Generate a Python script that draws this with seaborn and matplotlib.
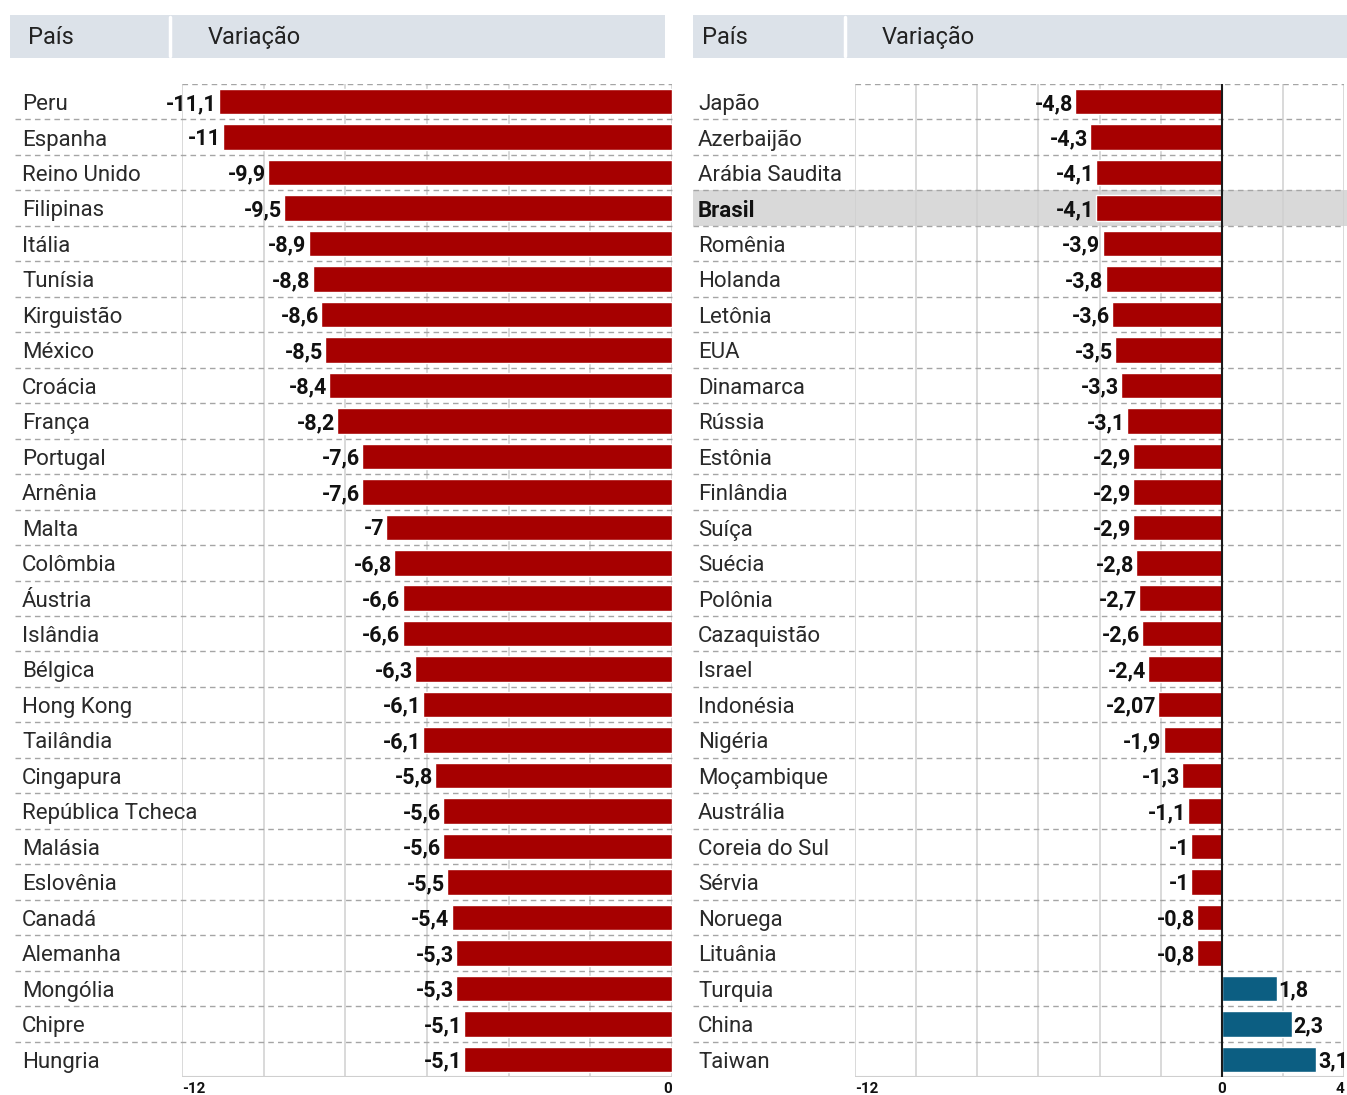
import matplotlib
matplotlib.use("Agg")
import matplotlib.pyplot as plt
import matplotlib.transforms as mtrans
from matplotlib.patches import Rectangle
from matplotlib.lines import Line2D
import seaborn as sns
import pandas as pd

# ---------------- data ----------------
paises_esq = ["Peru", "Espanha", "Reino Unido", "Filipinas", "Itália", "Tunísia",
              "Kirguistão", "México", "Croácia", "França", "Portugal", "Arnênia",
              "Malta", "Colômbia", "Áustria", "Islândia", "Bélgica", "Hong Kong",
              "Tailândia", "Cingapura", "República Tcheca", "Malásia", "Eslovênia",
              "Canadá", "Alemanha", "Mongólia", "Chipre", "Hungria"]
valores_esq = [-11.1, -11, -9.9, -9.5, -8.9, -8.8, -8.6, -8.5, -8.4, -8.2, -7.6, -7.6,
               -7, -6.8, -6.6, -6.6, -6.3, -6.1, -6.1, -5.8, -5.6, -5.6, -5.5, -5.4,
               -5.3, -5.3, -5.1, -5.1]

paises_dir = ["Japão", "Azerbaijão", "Arábia Saudita", "Brasil", "Romênia", "Holanda",
              "Letônia", "EUA", "Dinamarca", "Rússia", "Estônia", "Finlândia", "Suíça",
              "Suécia", "Polônia", "Cazaquistão", "Israel", "Indonésia", "Nigéria",
              "Moçambique", "Austrália", "Coreia do Sul", "Sérvia", "Noruega",
              "Lituânia", "Turquia", "China", "Taiwan"]
valores_dir = [-4.8, -4.3, -4.1, -4.1, -3.9, -3.8, -3.6, -3.5, -3.3, -3.1, -2.9, -2.9,
               -2.9, -2.8, -2.7, -2.6, -2.4, -2.07, -1.9, -1.3, -1.1, -1, -1, -0.8,
               -0.8, 1.8, 2.3, 3.1]

destaque = "Brasil"
cabecalho = ["País", "Variação"]
limites_esq = (-12, 0)
limites_dir = (-12, 4)

# ---------------- style ----------------
W, H = 1347, 1095
sns.set_theme(style="white")
FONT = ["Roboto", "DejaVu Sans"]
plt.rcParams["font.family"] = FONT

RED = "#A60000"
BLUE = "#0C5E82"
HEADER_BG = "#DCE2E9"
GRID = "#CFCFCF"
DASH = "#A5A5A5"
TXT = "#2A2A2A"

fig = plt.figure(figsize=(W / 100, H / 100), dpi=100)
fig.patch.set_facecolor("white")


def fx(px):
    return px / W


def fy(py):
    return 1 - py / H


TOP, BOTTOM = 84, 1077


def fmt(v):
    return f"{v:g}".replace(".", ",")


def panel(ax_left, ax_right, lbl_x, sep_left, paises, valores, lims, ticks_spec):
    ax = fig.add_axes([fx(ax_left), fy(BOTTOM), fx(ax_right - ax_left),
                       (BOTTOM - TOP) / H])
    ax.patch.set_alpha(0)
    df = pd.DataFrame({"pais": paises, "valor": valores,
                       "sinal": ["pos" if v > 0 else "neg" for v in valores]})
    sns.barplot(data=df, x="valor", y="pais", hue="sinal",
                palette={"neg": RED, "pos": BLUE}, orient="h", dodge=False,
                width=0.72, saturation=1, legend=False, ax=ax, zorder=3)
    n = len(paises)
    ax.set_xlim(*lims)
    ax.set_ylim(n - 0.5, -0.5)
    ax.set_xlabel("")
    ax.set_ylabel("")
    ax.set_xticks([])
    ax.set_yticks([])
    for s in ax.spines.values():
        s.set_visible(False)

    blend = mtrans.blended_transform_factory(fig.transFigure, ax.transData)

    for g in range(lims[0], lims[1] + 1, 2):
        ax.axvline(g, color=GRID, lw=1.1, zorder=1)
    ax.axhline(n - 0.5, color=GRID, lw=1.5, zorder=1)
    ax.axhline(-0.5, color=DASH, lw=1, ls=(0, (4, 3)), zorder=2)
    for i in range(n - 1):
        ax.add_line(Line2D([fx(sep_left), fx(ax_right)], [i + 0.5, i + 0.5],
                           transform=blend, color=DASH, lw=1, ls=(0, (4, 3)),
                           clip_on=False, zorder=2))
    if lims[1] > 0:
        ax.axvline(0, color="#1A1A1A", lw=1.5, zorder=4)

    for i, (p, v) in enumerate(zip(paises, valores)):
        bold = p == destaque
        if bold:
            ax.add_patch(Rectangle((fx(sep_left), i - 0.5), fx(W) - fx(sep_left), 1.0,
                                   transform=blend, facecolor="#D9D9D9",
                                   edgecolor="none", clip_on=False, zorder=0))
        ax.text(fx(lbl_x), i + 0.08, p, transform=blend, ha="left", va="center",
                fontsize=16, color=TXT if not bold else "#111111",
                fontweight="bold" if bold else "normal", zorder=5)
        if v < 0:
            ax.annotate(fmt(v), (v, i + 0.06), xytext=(-1.5, 0),
                        textcoords="offset points", ha="right", va="center",
                        fontsize=15.5, fontweight="bold", color="#111111",
                        zorder=5, annotation_clip=False)
        else:
            ax.annotate(fmt(v), (v, i + 0.06), xytext=(1, 0),
                        textcoords="offset points", ha="left", va="center",
                        fontsize=15.5, fontweight="bold", color="#111111",
                        zorder=5, annotation_clip=False)

    tb = mtrans.blended_transform_factory(ax.transData, fig.transFigure)
    for val, ha in ticks_spec:
        ax.text(val, fy(1089), f"{val}", transform=tb, ha=ha, va="center",
                fontsize=11, fontweight="bold", color="#111111")
    return ax


panel(182, 672, 22, 15, paises_esq, valores_esq, limites_esq,
      [(-12, "left"), (0, "right")])
panel(855, 1344, 698, 693, paises_dir, valores_dir, limites_dir,
      [(-12, "left"), (0, "center"), (4, "right")])

for x0, x1, sep, xt1, xt2 in [(10, 665, 170, 28, 208), (693, 1347, 845, 702, 882)]:
    fig.add_artist(Rectangle((fx(x0), fy(58)), fx(x1 - x0), (58 - 15) / H,
                             transform=fig.transFigure, facecolor=HEADER_BG,
                             edgecolor="none", zorder=0))
    fig.add_artist(Line2D([fx(sep), fx(sep)], [fy(17), fy(56)],
                          transform=fig.transFigure, color="white", lw=2.5))
    fig.text(fx(xt1), fy(37), cabecalho[0], ha="left", va="center",
             fontsize=17, color="#222222")
    fig.text(fx(xt2), fy(37), cabecalho[1], ha="left", va="center",
             fontsize=17, color="#222222")

fig.savefig("out.png", dpi=100, facecolor="white")
